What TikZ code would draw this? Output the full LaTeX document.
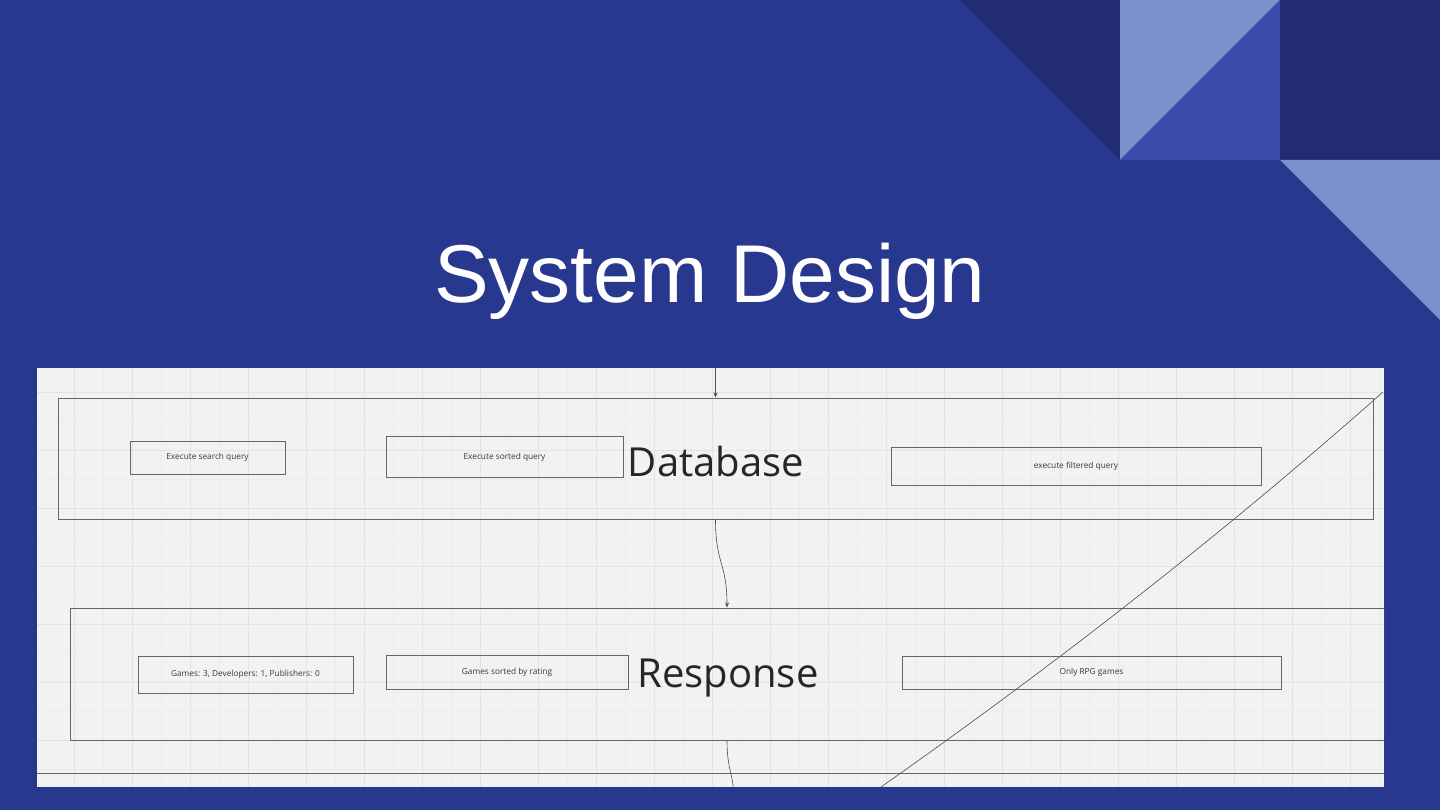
\documentclass[tikz,border=0pt]{standalone}
\usepackage{fontspec}
\setmainfont{Open Sans}
\newfontfamily\titlefont{Liberation Sans}
\usetikzlibrary{arrows.meta}

\definecolor{slideblue}{HTML}{29388F}
\definecolor{darkblue}{HTML}{212C73}
\definecolor{lightblue}{HTML}{7890CC}
\definecolor{midblue}{HTML}{3A4AA8}
\definecolor{board}{HTML}{F2F2F2}
\definecolor{gridmajor}{HTML}{E3E3E3}
\definecolor{gridminor}{HTML}{ECECEC}
\definecolor{boxline}{HTML}{666666}
\definecolor{inktext}{HTML}{383838}

\tikzset{
  stage/.style={draw=boxline, line width=1pt, inner sep=0pt},
  task/.style={draw=boxline, line width=1pt, inner sep=0pt, text=inktext,
    font=\fontsize{8.3}{9}\selectfont},
  stagename/.style={text=black!85, inner sep=0pt, font=\fontsize{40}{40}\selectfont},
  flow/.style={draw=black!70, line width=0.6pt},
}

\begin{document}
\begin{tikzpicture}[x=1pt,y=-1pt]

\useasboundingbox (0,0) rectangle (1440,810);
\fill[slideblue] (0,0) rectangle (1440,810);

% corner pattern
\fill[darkblue] (960,0) -- (1120,0) -- (1120,160) -- cycle;
\fill[lightblue] (1120,0) -- (1280,0) -- (1120,160) -- cycle;
\fill[midblue] (1280,0) -- (1280,160) -- (1120,160) -- cycle;
\fill[darkblue] (1280,0) rectangle (1440,160);
\fill[lightblue] (1280,160) -- (1440,160) -- (1440,320) -- cycle;

\node[text=white, anchor=base, inner sep=0pt, font=\titlefont\fontsize{82}{82}\selectfont]
  (title) at (710,302) {System Design};

\begin{scope}
\clip (37,368) rectangle (1384,787);
\fill[board] (37,368) rectangle (1384,787);

\foreach \x in {16,45,...,1400}
	\draw[gridminor, line width=0.5pt] (\x,368) -- (\x,787);
\foreach \y in {363,392,...,800}
	\draw[gridminor, line width=0.5pt] (37,\y) -- (1384,\y);
\foreach \x in {16,74,...,1400}
	\draw[gridmajor, line width=0.6pt] (\x,368) -- (\x,787);
\foreach \y in {392,450,...,800}
	\draw[gridmajor, line width=0.6pt] (37,\y) -- (1384,\y);

% database stage
\node[stage, minimum width=1315pt, minimum height=121pt] (db) at (715.5,458.5) {};
\node[task, minimum width=155pt, minimum height=33pt] (search) at (207.5,457.5) {Execute search query};
\node[task, minimum width=237pt, minimum height=41pt] (sorted) at (504.5,457) {Execute sorted query};
\node[stagename] (dbname) at (716,461) {Database};
\node[task, minimum width=370pt, minimum height=38pt] (filtered) at (1076,466) {execute filtered query};

% response stage
\node[stage, minimum width=1314pt, minimum height=132pt] (resp) at (727,674) {};
\node[task, minimum width=215pt, minimum height=37pt] (counts) at (245.5,674.5) {Games: 3, Developers: 1, Publishers: 0};
\node[task, minimum width=242pt, minimum height=34pt] (byrating) at (507,672.5) {Games sorted by rating};
\node[stagename] (respname) at (728,678) {Response};
\node[task, minimum width=379pt, minimum height=33pt] (rpg) at (1091.5,672.5) {Only RPG games};

\node[stage, minimum width=1400pt, minimum height=114pt] (next) at (710,830) {};

\coordinate (fromtop) at (715.5,360);
\coordinate (tobottom) at (734,800);
\coordinate (diagA) at (1383,392);
\coordinate (diagB) at (881,787);

\draw[flow, -{Stealth[length=5pt,width=4pt]}] (fromtop) -- (db.north);
\draw[flow, -{Stealth[length=5pt,width=4pt]}] (db.south) .. controls +(0,45) and +(0,-45) .. (resp.north);
\draw[flow] (resp.south) .. controls +(0,30) and +(0,-25) .. (tobottom);
\draw[flow] (diagA) .. controls (1224,533) and (1056,664) .. (diagB);
\end{scope}

\end{tikzpicture}
\end{document}
